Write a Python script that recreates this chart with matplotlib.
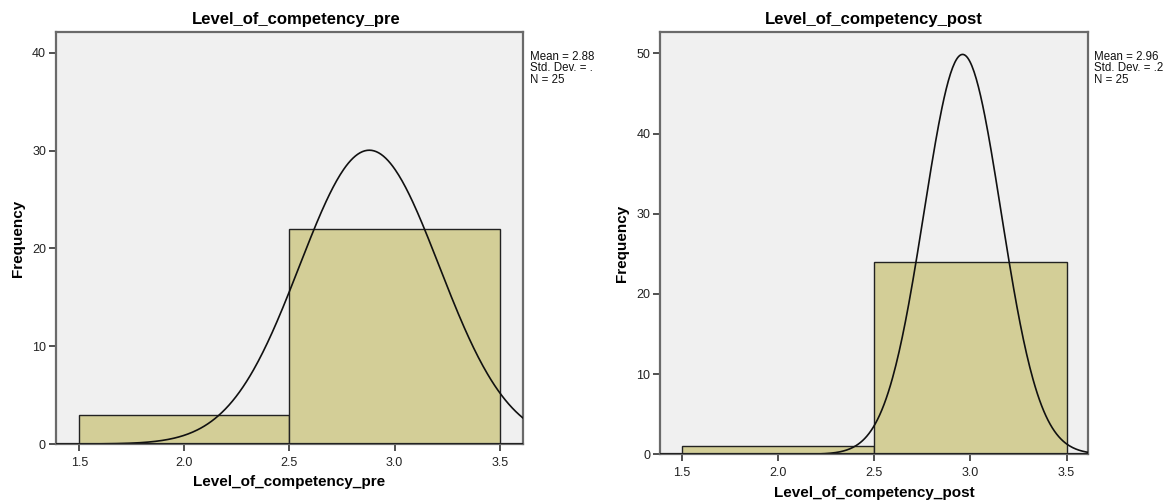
import numpy as np
import matplotlib
matplotlib.use("Agg")
import matplotlib.pyplot as plt

# ---- data ----
bin_edges = [1.5, 2.5, 3.5]
pre_counts = [3, 22]
post_counts = [1, 24]
pre_mean, pre_sd, pre_n = 2.88, 0.332, 25
post_mean, post_sd, post_n = 2.96, 0.2, 25
x_ticks = [1.5, 2.0, 2.5, 3.0, 3.5]
x_tick_labels = ["1.5", "2.0", "2.5", "3.0", "3.5"]
pre_yticks = [0, 10, 20, 30, 40]
post_yticks = [0, 10, 20, 30, 40, 50]
pre_stats = "Mean = 2.88\nStd. Dev. = .\nN = 25"
post_stats = "Mean = 2.96\nStd. Dev. = .2\nN = 25"

plt.rcParams['font.family'] = ['Liberation Sans', 'DejaVu Sans']

BAR = "#D3CE97"
BG = "#F0F0F0"
FRAME = "#6A6A6A"

fig = plt.figure(figsize=(11.75, 5.04), dpi=100)

def panel(rect, counts, mean, sd, n, yticks, ylim, title, stats, title_dx):
    ax = fig.add_axes(rect)
    ax.set_facecolor(BG)
    widths = np.diff(bin_edges)
    ax.bar(bin_edges[:-1], counts, width=widths, align='edge', color=BAR,
           edgecolor='#222222', linewidth=1.0, zorder=2)
    xlim = (1.388, 3.61)
    xs = np.linspace(xlim[0], xlim[1], 400)
    bw = widths[0]
    ys = n * bw / (sd * np.sqrt(2 * np.pi)) * np.exp(-0.5 * ((xs - mean) / sd) ** 2)
    ax.plot(xs, ys, color='#111111', lw=1.2, zorder=3)
    ax.set_xlim(*xlim)
    ax.set_ylim(*ylim)
    ax.axhline(0, color='#222222', lw=1.5, zorder=4)
    ax.set_xticks(x_ticks)
    ax.set_xticklabels(x_tick_labels)
    ax.set_yticks(yticks)
    ax.set_yticklabels([str(v) for v in yticks])
    for s in ax.spines.values():
        s.set_color(FRAME)
        s.set_linewidth(1.6)
    ax.tick_params(axis='both', direction='out', length=5, width=1.2,
                   color='#333333', labelsize=9, labelcolor='#222222', pad=2)
    ax.tick_params(axis='x', pad=4)
    ax.text(0.5 + title_dx, 1.012, title, transform=ax.transAxes, fontsize=12,
            fontweight='bold', ha='center', va='bottom')
    ax.set_xlabel(title, fontsize=11, fontweight='bold', labelpad=5)
    ax.set_ylabel("Frequency", fontsize=11, fontweight='bold', labelpad=5)
    ax.text(1.015, 0.955, stats, transform=ax.transAxes, fontsize=8.3,
            va='top', ha='left', linespacing=0.95, color='#111111')
    return ax

panel([0.0474, 0.119, 0.3975, 0.817], pre_counts, pre_mean, pre_sd, pre_n,
      pre_yticks, (0, 42.1), "Level_of_competency_pre", pre_stats, 0.015)
panel([0.5617, 0.0986, 0.364, 0.8385], post_counts, post_mean, post_sd, post_n,
      post_yticks, (0, 52.7), "Level_of_competency_post", post_stats, 0.0)

fig.savefig("out.png", dpi=100)
